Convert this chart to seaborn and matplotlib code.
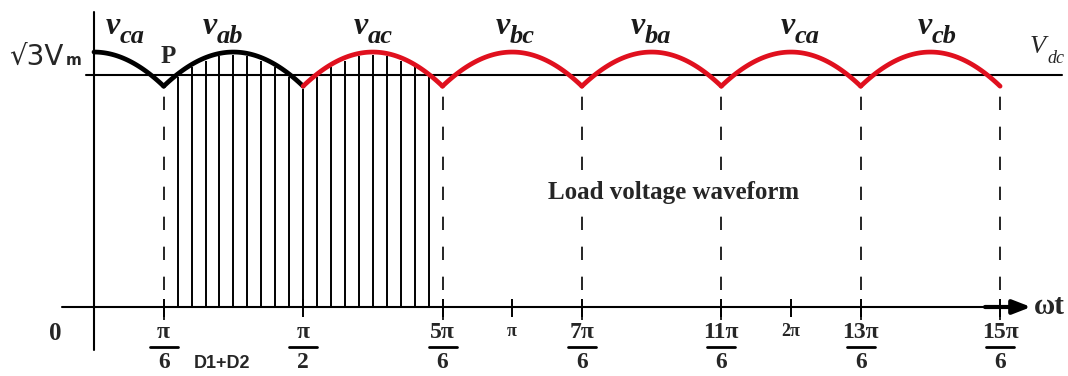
import numpy as np
import pandas as pd
import matplotlib
matplotlib.use("Agg")
import matplotlib.pyplot as plt
import seaborn as sns

# ----- Data (angles in multiples of pi/6, voltages in units of Vm) ----- #
arc_names = ["ca", "ab", "ac", "bc", "ba", "ca", "cb"]
arc_start = [0, 1, 3, 5, 7, 9, 11]
arc_end = [1, 3, 5, 7, 9, 11, 13]
arc_peak = [0, 2, 4, 6, 8, 10, 12]
arc_color = ["black", "black", "#e0101e", "#e0101e", "#e0101e", "#e0101e", "#e0101e"]
peak_voltage = np.sqrt(3)
vdc_level = 1.576

tick_pos = [1, 3, 5, 6, 7, 9, 10, 11, 13]
tick_labels = ["π/6", "π/2", "5π/6", "π", "7π/6", "11π/6", "2π", "13π/6", "15π/6"]
dashed_pos = [1, 5, 7, 9, 11, 13]
hatch_from, hatch_to, hatch_step = 1, 5, 0.2

# ----- Pixel helpers for the layout ----- #
W, H = 1068, 376
X0, PX_PER_RAD = 94, 69.7 * 6 / np.pi
Y0, PX_PER_V = 307, 147.2


def X(px):
    return (px - X0) / PX_PER_RAD


def Y(py):
    return (Y0 - py) / PX_PER_V


# ----- Build the arcs ----- #
rows = []
for i in range(len(arc_names)):
    wt = np.linspace(arc_start[i], arc_end[i], 60) * np.pi / 6
    v = peak_voltage * np.cos(wt - arc_peak[i] * np.pi / 6)
    rows.append(pd.DataFrame({"wt": wt, "v": v, "arc": i}))
arcs_df = pd.concat(rows, ignore_index=True)

sns.set_theme(style="white")
plt.rcParams["font.family"] = ["Liberation Serif", "DejaVu Serif"]

fig = plt.figure(figsize=(W / 100, H / 100), dpi=100)
ax = fig.add_axes([0, 0, 1, 1])
ax.set_xlim(X(0), X(W))
ax.set_ylim(Y(H), Y(0))
ax.axis("off")

sns.lineplot(data=arcs_df, x="wt", y="v", hue="arc",
             palette=dict(enumerate(arc_color)), linewidth=3.4,
             legend=False, ax=ax, zorder=5)

# hatched conduction region
hx = np.arange(hatch_from + hatch_step, hatch_to, hatch_step) * np.pi / 6
hy = peak_voltage * np.cos(((hx + np.pi / 6) % (np.pi / 3)) - np.pi / 6)
ax.vlines(hx, 0, hy - 0.02, color="black", lw=1.4)

# dashed boundaries
dx = np.array(dashed_pos) * np.pi / 6
ax.vlines(dx, Y(320), Y(96), color="black", lw=1.2, linestyles=(0, (8, 10)))

# axes, Vdc line, ticks
ax.plot([0, 0], [Y(12), Y(350)], color="black", lw=1.5)
ax.plot([X(62), X(1010)], [0, 0], color="black", lw=1.5)
ax.annotate("", xy=(X(1031), 0), xytext=(X(985), 0),
            arrowprops=dict(arrowstyle="-|>,head_length=0.9,head_width=0.35",
                            lw=3, color="black", shrinkA=0, shrinkB=0))
ax.plot([X(86), X(1062)], [vdc_level, vdc_level], color="black", lw=1.5)
tx = np.array(tick_pos) * np.pi / 6
ax.vlines(tx, Y(317), Y(299), color="black", lw=1.4)

# tick labels
half_bar = X(108) - X(94)
for pos, lab in zip(tx, tick_labels):
    if "/" in lab:
        num, den = lab.split("/")
        ax.text(pos, Y(333), num, ha="center", va="center", fontsize=17,
                fontweight="bold")
        ax.plot([pos - half_bar, pos + half_bar], [Y(347), Y(347)],
                color="black", lw=2)
        ax.text(pos, Y(363), den, ha="center", va="center", fontsize=17,
                fontweight="bold")
    else:
        ax.text(pos, Y(331), lab, ha="center", va="center", fontsize=13,
                fontweight="bold")

# phase voltage labels
label_split = [120, 217, 368, 510, 645, 795, 932]
for name, sx in zip(arc_names, label_split):
    ax.text(X(sx), Y(34), "v", ha="right", va="baseline", fontsize=23,
            fontweight="bold", style="italic", color="#1a1a1a")
    ax.text(X(sx), Y(43), name, ha="left", va="baseline", fontsize=19,
            fontweight="bold", style="italic", color="#1a1a1a")

ax.text(X(1046), Y(53), "V", ha="right", va="baseline", fontsize=19,
        style="italic")
ax.text(X(1047), Y(63), "dc", ha="left", va="baseline", fontsize=13,
        style="italic")

sans = ["DejaVu Sans"]
ax.text(X(9), Y(65), "√3V", ha="left", va="baseline", fontsize=20, family=sans)
ax.text(X(66), Y(65), "m", ha="left", va="baseline", fontsize=11, family=sans,
        fontweight="bold")
ax.text(X(168), Y(57), "P", ha="center", va="center", fontsize=18,
        fontweight="bold")
ax.text(X(55), Y(334), "0", ha="center", va="center", fontsize=18,
        fontweight="bold")
ax.text(X(222), Y(363), "D1+D2", ha="center", va="center", fontsize=13,
        fontweight="bold", family=["Liberation Sans", "DejaVu Sans"])
ax.text(X(1049), Y(306), "ωt", ha="center", va="center", fontsize=21,
        fontweight="bold")
ax.text(X(674), Y(193), "Load voltage waveform", ha="center", va="center",
        fontsize=18, fontweight="bold", zorder=10,
        bbox=dict(facecolor="white", edgecolor="none", pad=1))

fig.savefig("out.png", dpi=100)
